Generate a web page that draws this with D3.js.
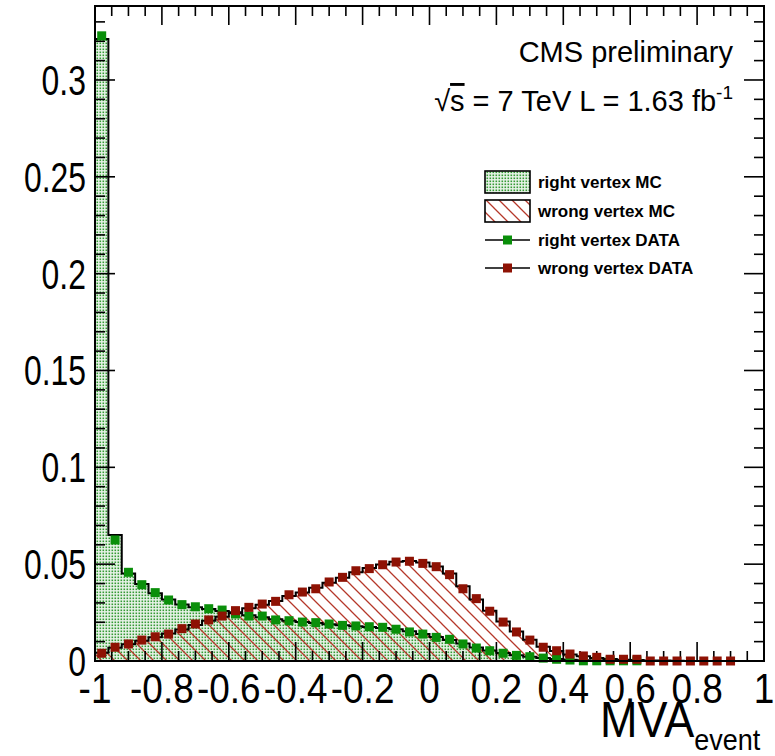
<!DOCTYPE html>
<html>
<head>
<meta charset="utf-8">
<script src="https://cdn.jsdelivr.net/npm/d3@7"></script>
<style>
  html, body { margin: 0; padding: 0; background: #fff; }
  svg { display: block; }
  text { font-family: "Liberation Sans", Arial, Helvetica, sans-serif; fill: #000; }
</style>
</head>
<body>
<div id="chart"></div>
<script>
// Histogram binning of the event MVA output
const xMin = -1, xMax = 1, binWidth = 0.04;
const binLow = d3.range(50).map(i => +(xMin + i * binWidth).toFixed(2));

// MC templates (normalised)
const rightVertexMC = [
  0.3212, 0.0650, 0.0452, 0.0398, 0.0350, 0.0318, 0.0292, 0.0278, 0.0268, 0.0258,
  0.0246, 0.0236, 0.0226, 0.0216, 0.0208, 0.0202, 0.0196, 0.0190, 0.0185, 0.0180,
  0.0176, 0.0171, 0.0164, 0.0154, 0.0140, 0.0124, 0.0108, 0.0090, 0.0070, 0.0054,
  0.0041, 0.0030, 0.0022, 0.0015, 0.0010, 0.0006, 0.0004, 0.0002, 0.0001, 0,
  0, 0, 0, 0, 0, 0, 0, 0, 0, 0
];
const wrongVertexMC = [
  0.0042, 0.0068, 0.0086, 0.0104, 0.0122, 0.0142, 0.0163, 0.0186, 0.0208, 0.0229,
  0.0252, 0.0272, 0.0290, 0.0310, 0.0335, 0.0354, 0.0378, 0.0404, 0.0430, 0.0458,
  0.0480, 0.0498, 0.0512, 0.0516, 0.0508, 0.0488, 0.0452, 0.0386, 0.0318, 0.0260,
  0.0204, 0.0152, 0.0110, 0.0074, 0.0052, 0.0034, 0.0024, 0.0016, 0.0010, 0.0007,
  0.0005, 0.0003, 0.0002, 0.0001, 0, 0, 0, 0, 0, 0
];

// Data (null = no marker drawn)
const rightVertexData = [
  0.3228, 0.0625, 0.0458, 0.0394, 0.0353, 0.0315, 0.0291, 0.0280, 0.0270, 0.0263,
  0.0243, 0.0232, 0.0232, 0.0212, 0.0208, 0.0201, 0.0198, 0.0191, 0.0184, 0.0181,
  0.0177, 0.0174, 0.0164, 0.0150, 0.0139, 0.0122, 0.0112, 0.0088, 0.0067, 0.0053,
  0.0040, 0.0029, 0.0022, 0.0015, 0.0009, 0.0005, 0.0001, 0.0001, 0.0001, 0.0001,
  0.0001, null, null, null, null, null, null, null, null, null
];
const wrongVertexData = [
  0.0040, 0.0071, 0.0088, 0.0108, 0.0125, 0.0139, 0.0167, 0.0191, 0.0212, 0.0232,
  0.0260, 0.0277, 0.0294, 0.0308, 0.0342, 0.0356, 0.0373, 0.0408, 0.0432, 0.0466,
  0.0477, 0.0497, 0.0511, 0.0515, 0.0504, 0.0487, 0.0446, 0.0373, 0.0322, 0.0257,
  0.0201, 0.0150, 0.0108, 0.0071, 0.0053, 0.0036, 0.0026, 0.0019, 0.0009, 0.0009,
  0.0009, 0, 0, 0, 0, 0, 0, 0, null, null
];

// Axis ticks
const xTickValues = [-1, -0.8, -0.6, -0.4, -0.2, 0, 0.2, 0.4, 0.6, 0.8, 1];
const xTickLabels = ["-1", "-0.8", "-0.6", "-0.4", "-0.2", "0", "0.2", "0.4", "0.6", "0.8", "1"];
const yTickValues = [0, 0.05, 0.1, 0.15, 0.2, 0.25, 0.3];
const yTickLabels = ["0", "0.05", "0.1", "0.15", "0.2", "0.25", "0.3"];
const yMax = 0.3382;

const legendLabels = ["right vertex MC", "wrong vertex MC", "right vertex DATA", "wrong vertex DATA"];

const W = 775, H = 756;
const frame = { left: 95, right: 764, top: 6, bottom: 661 };
const greenMarker = "#0a8f0a", redMarker = "#8e1204", hatchColor = "#b5382a";

const svg = d3.select("#chart").append("svg").attr("width", W).attr("height", H);
svg.append("rect").attr("width", W).attr("height", H).attr("fill", "#fff");

const x = d3.scaleLinear().domain([xMin, xMax]).range([frame.left, frame.right]);
const y = d3.scaleLinear().domain([0, yMax]).range([frame.bottom, frame.top]);

// Fill patterns
const defs = svg.append("defs");
const dots = defs.append("pattern").attr("id", "dots").attr("patternUnits", "userSpaceOnUse")
  .attr("width", 3).attr("height", 3);
dots.append("rect").attr("width", 3).attr("height", 3).attr("fill", "#e8f3e8");
dots.append("rect").attr("x", 0.5).attr("y", 0.5).attr("width", 1.6).attr("height", 1.6).attr("fill", "#359a35");

const hatch = defs.append("pattern").attr("id", "hatch").attr("patternUnits", "userSpaceOnUse")
  .attr("width", 13).attr("height", 13);
hatch.append("path").attr("d", "M-1,-1 L14,14 M-1,12 L1,14 M12,-1 L14,1")
  .attr("stroke", hatchColor).attr("stroke-width", 1.3).attr("fill", "none");

const clip = defs.append("clipPath").attr("id", "plotClip");
clip.append("rect").attr("x", frame.left).attr("y", frame.top)
  .attr("width", frame.right - frame.left).attr("height", frame.bottom - frame.top);

// step outline points from bin contents
function stepPoints(values) {
  const pts = [[binLow[0], 0]];
  values.forEach((v, i) => {
    pts.push([binLow[i], v]);
    pts.push([binLow[i] + binWidth, v]);
  });
  pts.push([binLow[values.length - 1] + binWidth, 0]);
  return pts;
}
const stepLine = d3.line().x(d => x(d[0])).y(d => y(d[1]));

const plot = svg.append("g").attr("clip-path", "url(#plotClip)");

// right vertex MC: dotted green fill
plot.append("path").attr("d", stepLine(stepPoints(rightVertexMC)) + "Z")
  .attr("fill", "url(#dots)").attr("stroke", "none");
// wrong vertex MC: red hatching
plot.append("path").attr("d", stepLine(stepPoints(wrongVertexMC)) + "Z")
  .attr("fill", "url(#hatch)").attr("stroke", "none");
// outlines
[rightVertexMC, wrongVertexMC].forEach(vals => {
  plot.append("path").attr("d", stepLine(stepPoints(vals)))
    .attr("fill", "none").attr("stroke", "#000").attr("stroke-width", 2);
});

// Axis ticks (inside frame, on all four sides)
const xMinor = d3.range(0, 41).map(i => -1 + i * 0.05);
const yMinor = d3.range(0, 34).map(i => i * 0.01);
const isMajor = (v, step) => Math.abs(v / step - Math.round(v / step)) < 1e-6;
const ticks = svg.append("g").attr("stroke", "#000").attr("stroke-width", 1.6);
xMinor.forEach(v => {
  const len = isMajor(v, 0.2) ? 19 : 10;
  ticks.append("line").attr("x1", x(v)).attr("x2", x(v)).attr("y1", frame.bottom).attr("y2", frame.bottom - len);
  ticks.append("line").attr("x1", x(v)).attr("x2", x(v)).attr("y1", frame.top).attr("y2", frame.top + len);
});
yMinor.forEach(v => {
  if (y(v) < frame.top) return;
  const len = isMajor(v, 0.05) ? 20 : 10;
  ticks.append("line").attr("y1", y(v)).attr("y2", y(v)).attr("x1", frame.left).attr("x2", frame.left + len);
  ticks.append("line").attr("y1", y(v)).attr("y2", y(v)).attr("x1", frame.right).attr("x2", frame.right - len);
});

// Data markers
function drawMarkers(values, color) {
  const pts = values.map((v, i) => ({ x: binLow[i] + binWidth / 2, v })).filter(d => d.v !== null);
  svg.append("g").selectAll("rect").data(pts).join("rect")
    .attr("x", d => x(d.x) - 4.5).attr("y", d => y(d.v) - 4.5)
    .attr("width", 9).attr("height", 9).attr("fill", color);
}
drawMarkers(rightVertexData, greenMarker);
drawMarkers(wrongVertexData, redMarker);

// Frame
svg.append("rect").attr("x", frame.left).attr("y", frame.top)
  .attr("width", frame.right - frame.left).attr("height", frame.bottom - frame.top)
  .attr("fill", "none").attr("stroke", "#000").attr("stroke-width", 2);

// Tick labels
xTickValues.forEach((v, i) => {
  svg.append("g").attr("transform", `translate(${x(v)},703) scale(0.88,1)`)
    .append("text").attr("text-anchor", "middle").attr("font-size", 42).text(xTickLabels[i]);
});
yTickValues.forEach((v, i) => {
  svg.append("g").attr("transform", `translate(86,${y(v) + 15}) scale(0.76,1)`)
    .append("text").attr("text-anchor", "end").attr("font-size", 42).text(yTickLabels[i]);
});

// Axis title
const title = svg.append("g").attr("transform", "translate(600,737) scale(0.9,1)")
  .append("text").attr("text-anchor", "start").attr("font-size", 50);
title.append("tspan").text("MVA");
title.append("tspan").attr("font-size", 30).attr("dy", 13).text("event");

// Annotations
svg.append("text").attr("x", 733).attr("y", 62).attr("text-anchor", "end").attr("font-size", 29).text("CMS preliminary");
const lumi = svg.append("text").attr("x", 733).attr("y", 111).attr("text-anchor", "end").attr("font-size", 29);
lumi.append("tspan").text("√");
lumi.append("tspan").style("text-decoration", "overline").text("s");
lumi.append("tspan").text(" = 7 TeV L = 1.63 fb");
lumi.append("tspan").attr("font-size", 19).attr("dy", -12).text("-1");

// Legend
const leg = svg.append("g");
const lx = 485, lw = 45;
leg.append("rect").attr("x", lx).attr("y", 171).attr("width", lw).attr("height", 22)
  .attr("fill", "url(#dots)").attr("stroke", "#000").attr("stroke-width", 1.6);
leg.append("rect").attr("x", lx).attr("y", 200).attr("width", lw).attr("height", 22)
  .attr("fill", "url(#hatch)").attr("stroke", "#000").attr("stroke-width", 1.6);
[[240, greenMarker], [268, redMarker]].forEach(([ly, c]) => {
  leg.append("line").attr("x1", lx).attr("x2", lx + lw).attr("y1", ly).attr("y2", ly)
    .attr("stroke", "#000").attr("stroke-width", 1.6);
  leg.append("rect").attr("x", lx + lw / 2 - 4.5).attr("y", ly - 4.5).attr("width", 9).attr("height", 9).attr("fill", c);
});
[188, 217, 246, 274].forEach((ly, i) => {
  leg.append("text").attr("x", 538).attr("y", ly).attr("font-size", 17).attr("font-weight", "bold").text(legendLabels[i]);
});
</script>
</body>
</html>
